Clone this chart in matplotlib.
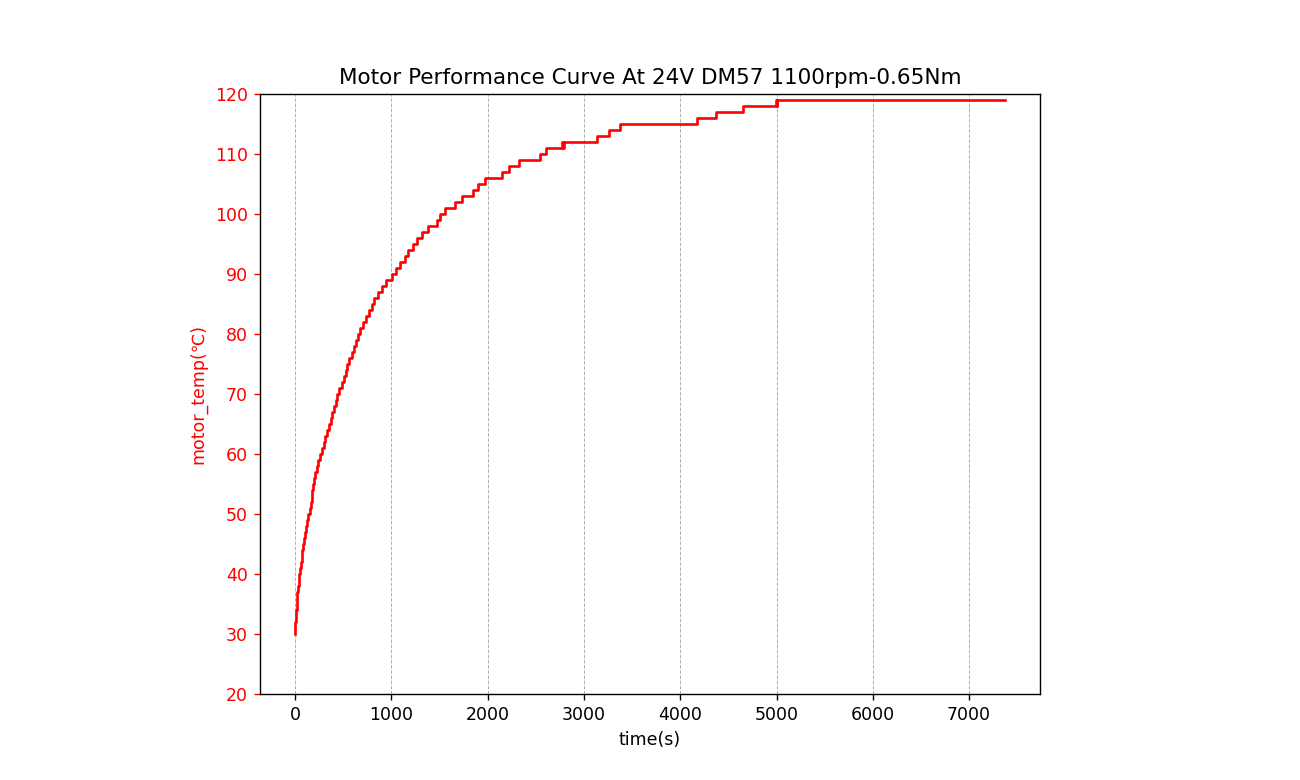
import numpy as np
import matplotlib
matplotlib.use('Agg')
from matplotlib import pyplot as plt

# time (s) at which each temperature reading starts
times = [0, 2, 5, 8, 12, 16, 20, 25, 31, 38,
         45, 52, 60, 68, 76, 85, 95, 105, 116, 128,
         140, 152, 163, 172, 180, 190, 200, 212, 226, 240,
         262, 280, 298, 316, 334, 352, 370, 388, 405, 422,
         440, 462, 485, 505, 525, 545, 566, 588, 610, 632,
         652, 680, 708, 735, 765, 795, 825, 860, 900, 945,
         1010, 1050, 1095, 1140, 1170, 1225, 1270, 1320, 1380, 1470,
         1510, 1555, 1665, 1730, 1850, 1900, 1975, 2150, 2220, 2330,
         2540, 2610, 2770, 2780, 2790, 3140, 3260, 3375, 4175, 4375,
         4655, 4990, 5000, 5010, 7375]
temps = [30, 31, 32, 33, 34, 35, 36, 37, 38, 39,
         40, 41, 42, 43, 44, 45, 46, 47, 48, 49,
         50, 51, 52, 53, 54, 55, 56, 57, 58, 59,
         60, 61, 62, 63, 64, 65, 66, 67, 68, 69,
         70, 71, 72, 73, 74, 75, 76, 77, 78, 79,
         80, 81, 82, 83, 84, 85, 86, 87, 88, 89,
         90, 91, 92, 93, 94, 95, 96, 97, 98, 99,
         100, 101, 102, 103, 104, 105, 106, 107, 108, 109,
         110, 111, 112, 111, 112, 113, 114, 115, 116, 117,
         118, 119, 118, 119, 119]

fig = plt.figure(figsize=(13, 7.8), dpi=100)
ax = fig.add_axes([0.2, 0.11, 0.6, 0.769])

ax.step(times, temps, where='post', color='red', lw=1.9)
ax.set_xlim(-363, 7736)
ax.set_ylim(20, 120)
ax.set_yticks(np.arange(20, 121, 10))
ax.set_xticks(np.arange(0, 7001, 1000))
ax.grid(axis='x', linestyle='--', color='#b0b0b0', lw=0.7)
for s in ax.spines.values():
    s.set_linewidth(1.0)

ax.set_title('Motor Performance Curve At 24V DM57 1100rpm-0.65Nm', fontsize=15.5, pad=7.5)
ax.set_xlabel('time(s)', fontsize=12.5, labelpad=5)
ax.set_ylabel('motor_temp(\u2103)', color='red', fontsize=12.5, labelpad=5)
ax.tick_params(axis='y', colors='red', labelsize=12.5, length=4.4, width=1.0, pad=4.4)
ax.tick_params(axis='x', labelsize=12.5, length=4.4, width=1.0, pad=4.4)

fig.savefig('out.png', dpi=100)
